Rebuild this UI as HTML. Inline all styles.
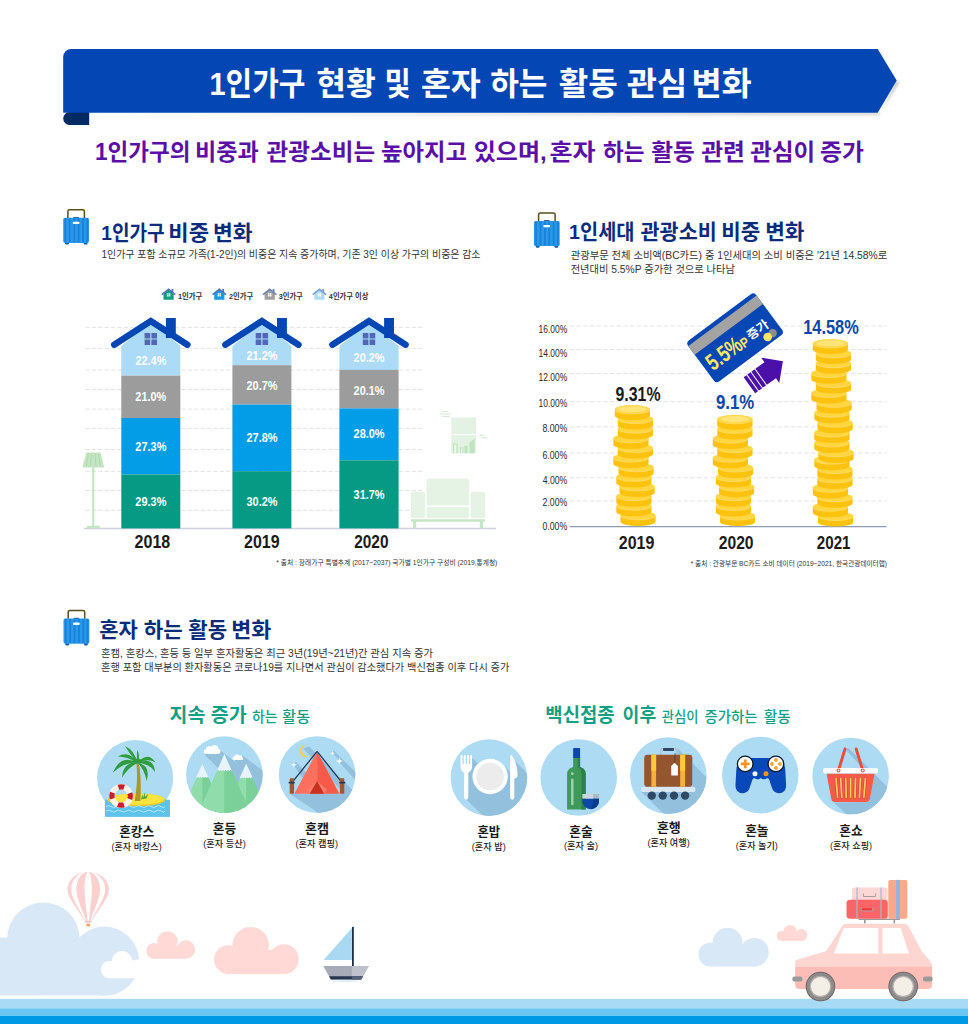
<!DOCTYPE html><html><head><meta charset="utf-8"><title>infographic</title><style>html,body{margin:0;padding:0;background:#fff;font-family:"Liberation Sans",sans-serif}svg{display:block}svg text{font-family:"Liberation Sans","Noto Sans CJK KR","NanumGothic",sans-serif}</style></head><body><svg width="968" height="1024" viewBox="0 0 968 1024"><rect width="968" height="1024" fill="#fff"/><filter id="bs" x="-5%" y="-20%" width="110%" height="150%"><feGaussianBlur stdDeviation="1.6"/></filter><path d="M90 114.5H879L898.5 82.5 897 80.5 880 113Z" fill="#555" opacity=".55" filter="url(#bs)"/><path d="M89.2 112H69.4a6.2 6.5 0 0 0 0 13H89.2Z" fill="#022a63"/><path d="M71.2 49H877.7L896.7 80.6 877.7 112.7H63.2V57a8 8 0 0 1 8-8Z" fill="#0446b4"/><g fill="#fff" font-size="32" font-weight="bold"><text x="209.45" y="94.66" textLength="96" lengthAdjust="spacingAndGlyphs">1인가구</text><text x="316.24" y="94.66" textLength="59.6" lengthAdjust="spacingAndGlyphs">현황</text><text x="384.55" y="94.66" textLength="26.2" lengthAdjust="spacingAndGlyphs">및</text><text x="420.90" y="94.66" textLength="59.9" lengthAdjust="spacingAndGlyphs">혼자</text><text x="490.13" y="94.66" textLength="57.2" lengthAdjust="spacingAndGlyphs">하는</text><text x="558.78" y="94.66" textLength="59" lengthAdjust="spacingAndGlyphs">활동</text><text x="626.72" y="94.66" textLength="60.4" lengthAdjust="spacingAndGlyphs">관심</text><text x="691.41" y="94.66" textLength="60.4" lengthAdjust="spacingAndGlyphs">변화</text></g><g fill="#5a10a6" font-size="23" font-weight="bold"><text x="95.02" y="159.71" textLength="95.4" lengthAdjust="spacingAndGlyphs">1인가구의</text><text x="195.00" y="159.71" textLength="63.8" lengthAdjust="spacingAndGlyphs">비중과</text><text x="266.54" y="159.71" textLength="108.6" lengthAdjust="spacingAndGlyphs">관광소비는</text><text x="381.07" y="159.71" textLength="85.9" lengthAdjust="spacingAndGlyphs">높아지고</text><text x="473.72" y="159.71" textLength="73" lengthAdjust="spacingAndGlyphs">있으며,</text><text x="549.42" y="159.71" textLength="46.2" lengthAdjust="spacingAndGlyphs">혼자</text><text x="602.92" y="159.71" textLength="41.6" lengthAdjust="spacingAndGlyphs">하는</text><text x="651.19" y="159.71" textLength="43.6" lengthAdjust="spacingAndGlyphs">활동</text><text x="701.24" y="159.71" textLength="43.7" lengthAdjust="spacingAndGlyphs">관련</text><text x="750.35" y="159.71" textLength="64.7" lengthAdjust="spacingAndGlyphs">관심이</text><text x="819.97" y="159.71" textLength="43.9" lengthAdjust="spacingAndGlyphs">증가</text></g><g id="sc"><path d="M67.9 218V211.3a1.6 1.6 0 0 1 1.6-1.6H82.8a1.6 1.6 0 0 1 1.6 1.6V218" fill="none" stroke="#5a4d1e" stroke-width="1.5"/>
<rect x="73.2" y="216.9" width="5.8" height="1.6" rx=".8" fill="#3a5a8a"/>
<rect x="65.1" y="241.5" width="3.8" height="3.1" rx="1.2" fill="#0d5fae"/><rect x="83.7" y="241.5" width="3.8" height="3.1" rx="1.2" fill="#0d5fae"/>
<rect x="63.2" y="217.8" width="25.8" height="25.1" rx="1.8" fill="#2a98eb"/>
<path d="M65.4 218.3v24M69.8 218.3v24M74.2 218.3v24M78.6 218.3v24M83 218.3v24M87.2 218.3v24" stroke="#1a82d8" stroke-width="1.9"/>
<rect x="72.8" y="221.7" width="6.6" height="2.4" rx=".9" fill="#fff"/></g><use href="#sc" x="470.7" y="3.2"/><use href="#sc" x="0.3" y="400.8"/><g fill="#0b2c7d" font-size="21" font-weight="bold"><text x="101.31" y="239.74" textLength="63.4" lengthAdjust="spacingAndGlyphs">1인가구</text><text x="168.38" y="239.74" textLength="40.8" lengthAdjust="spacingAndGlyphs">비중</text><text x="212.99" y="239.74" textLength="39.6" lengthAdjust="spacingAndGlyphs">변화</text><text x="569.06" y="238.90" textLength="65.4" lengthAdjust="spacingAndGlyphs">1인세대</text><text x="640.54" y="238.90" textLength="76.2" lengthAdjust="spacingAndGlyphs">관광소비</text><text x="721.17" y="238.90" textLength="39" lengthAdjust="spacingAndGlyphs">비중</text><text x="765.21" y="238.90" textLength="39.3" lengthAdjust="spacingAndGlyphs">변화</text><text x="99.30" y="636.95" textLength="38.6" lengthAdjust="spacingAndGlyphs">혼자</text><text x="143.77" y="636.95" textLength="39" lengthAdjust="spacingAndGlyphs">하는</text><text x="188.28" y="636.95" textLength="38.8" lengthAdjust="spacingAndGlyphs">활동</text><text x="231.17" y="636.95" textLength="40" lengthAdjust="spacingAndGlyphs">변화</text></g><g fill="#333333" font-size="10.3"><text x="101.51" y="258.27" textLength="379" lengthAdjust="spacingAndGlyphs">1인가구 포함 소규모 가족(1-2인)의 비중은 지속 증가하며, 기존 3인 이상 가구의 비중은 감소</text><text x="570.74" y="258.65" textLength="316.5" lengthAdjust="spacingAndGlyphs">관광부문 전체 소비액(BC카드) 중 1인세대의 소비 비중은 '21년 14.58%로</text><text x="570.65" y="272.73" textLength="164.3" lengthAdjust="spacingAndGlyphs">전년대비 5.5%P 증가한 것으로 나타남</text><text x="101.08" y="657.03" textLength="331.9" lengthAdjust="spacingAndGlyphs">혼캠, 혼캉스, 혼등 등 일부 혼자활동은 최근 3년(19년~21년)간 관심 지속 증가</text><text x="101.08" y="671.31" textLength="408.3" lengthAdjust="spacingAndGlyphs">혼행 포함 대부분의 환자활동은 코로나19를 지나면서 관심이 감소했다가 백신접종 이후 다시 증가</text></g><g transform="translate(161.2 288.4)"><path d="M2.3 11.4V5.4L7.4 1.2 12.5 5.4V11.4Z" fill="#129c84"/><rect x="10.4" y="0.5" width="1.8" height="3.6" fill="#4f74b8"/><path d="M0.7 6.3 7.4 0.9 14.1 6.3" fill="none" stroke="#4f74b8" stroke-width="1.7"/><path d="M5.7 4.8h1.5v1.5H5.7zM7.6 4.8h1.5v1.5H7.6zM5.7 6.7h1.5v1.5H5.7zM7.6 6.7h1.5v1.5H7.6z" fill="#fff"/></g><g transform="translate(211.9 288.4)"><path d="M2.3 11.4V5.4L7.4 1.2 12.5 5.4V11.4Z" fill="#169be8"/><rect x="10.4" y="0.5" width="1.8" height="3.6" fill="#4f74b8"/><path d="M0.7 6.3 7.4 0.9 14.1 6.3" fill="none" stroke="#4f74b8" stroke-width="1.7"/><path d="M5.7 4.8h1.5v1.5H5.7zM7.6 4.8h1.5v1.5H7.6zM5.7 6.7h1.5v1.5H5.7zM7.6 6.7h1.5v1.5H7.6z" fill="#fff"/></g><g transform="translate(262.3 288.4)"><path d="M2.3 11.4V5.4L7.4 1.2 12.5 5.4V11.4Z" fill="#a0a0a0"/><rect x="10.4" y="0.5" width="1.8" height="3.6" fill="#6f84ae"/><path d="M0.7 6.3 7.4 0.9 14.1 6.3" fill="none" stroke="#6f84ae" stroke-width="1.7"/><path d="M5.7 4.8h1.5v1.5H5.7zM7.6 4.8h1.5v1.5H7.6zM5.7 6.7h1.5v1.5H5.7zM7.6 6.7h1.5v1.5H7.6z" fill="#fff"/></g><g transform="translate(312.0 288.4)"><path d="M2.3 11.4V5.4L7.4 1.2 12.5 5.4V11.4Z" fill="#b0dbf6"/><rect x="10.4" y="0.5" width="1.8" height="3.6" fill="#7f9fd8"/><path d="M0.7 6.3 7.4 0.9 14.1 6.3" fill="none" stroke="#7f9fd8" stroke-width="1.7"/><path d="M5.7 4.8h1.5v1.5H5.7zM7.6 4.8h1.5v1.5H7.6zM5.7 6.7h1.5v1.5H5.7zM7.6 6.7h1.5v1.5H7.6z" fill="#fff"/></g><g fill="#333" font-size="7.6" font-weight="bold"><text x="177.90" y="299.04" textLength="24.4" lengthAdjust="spacingAndGlyphs">1인가구</text><text x="229.05" y="299.04" textLength="24.2" lengthAdjust="spacingAndGlyphs">2인가구</text><text x="278.71" y="299.04" textLength="24.1" lengthAdjust="spacingAndGlyphs">3인가구</text><text x="328.85" y="299.04" textLength="39.5" lengthAdjust="spacingAndGlyphs">4인가구 이상</text></g><path d="M85.4 327.4H424M85.4 348.4H424M85.4 370.1H424M85.4 389.5H424M85.4 409.1H424M85.4 428.4H424M85.4 449.5H424M85.4 471.4H424M85.4 490.5H424M85.4 510.3H424" stroke="#e3e3e6" stroke-width="1" stroke-dasharray="4.3 2.1" fill="none"/><path d="M84 528.6H496" stroke="#cfd0e0" stroke-width="1.5"/><path d="M121.3 375.6V346L150.8 321.8 180.3 346V375.6Z" fill="#abdbf6"/><rect x="121.3" y="375.6" width="59.0" height="42.4" fill="#9c9c9c"/><rect x="121.3" y="418.0" width="59.0" height="56.5" fill="#039ce6"/><rect x="121.3" y="474.5" width="59.0" height="53.9" fill="#069a84"/><rect x="165.9" y="318" width="9.9" height="20" fill="#0446b4"/><path d="M114.2 344.7 150.8 321.0 187.4 344.7" fill="none" stroke="#0446b4" stroke-width="6.4" stroke-linecap="round" stroke-linejoin="miter"/><path d="M144.6 333.0h5.6v5.5h-5.6zM151.4 333.0h5.6v5.5h-5.6zM144.6 339.6h5.6v5.5h-5.6zM151.4 339.6h5.6v5.5h-5.6z" fill="#5267b8"/><g fill="#fff" font-size="13.5" font-weight="bold"><text x="135.38" y="365.27" textLength="31" lengthAdjust="spacingAndGlyphs">22.4%</text><text x="135.35" y="401.14" textLength="31" lengthAdjust="spacingAndGlyphs">21.0%</text><text x="135.37" y="451.37" textLength="31" lengthAdjust="spacingAndGlyphs">27.3%</text><text x="135.37" y="505.97" textLength="31" lengthAdjust="spacingAndGlyphs">29.3%</text></g><text x="134.59" y="547.57" font-size="17.5" font-weight="bold" fill="#1a1a1a" textLength="35.7" lengthAdjust="spacingAndGlyphs">2018</text><path d="M232.4 365.2V346L261.9 321.8 291.4 346V365.2Z" fill="#abdbf6"/><rect x="232.4" y="365.2" width="59.0" height="39.4" fill="#9c9c9c"/><rect x="232.4" y="404.6" width="59.0" height="66.6" fill="#039ce6"/><rect x="232.4" y="471.2" width="59.0" height="57.2" fill="#069a84"/><rect x="277.0" y="318" width="9.9" height="20" fill="#0446b4"/><path d="M225.3 344.7 261.9 321.0 298.5 344.7" fill="none" stroke="#0446b4" stroke-width="6.4" stroke-linecap="round" stroke-linejoin="miter"/><path d="M255.7 333.0h5.6v5.5h-5.6zM262.5 333.0h5.6v5.5h-5.6zM255.7 339.6h5.6v5.5h-5.6zM262.5 339.6h5.6v5.5h-5.6z" fill="#5267b8"/><g fill="#fff" font-size="13.5" font-weight="bold"><text x="246.45" y="359.97" textLength="31" lengthAdjust="spacingAndGlyphs">21.2%</text><text x="246.47" y="390.44" textLength="31" lengthAdjust="spacingAndGlyphs">20.7%</text><text x="246.47" y="441.77" textLength="31" lengthAdjust="spacingAndGlyphs">27.8%</text><text x="246.49" y="505.94" textLength="31" lengthAdjust="spacingAndGlyphs">30.2%</text></g><text x="244.09" y="547.57" font-size="17.5" font-weight="bold" fill="#1a1a1a" textLength="35.5" lengthAdjust="spacingAndGlyphs">2019</text><path d="M339.4 369.9V346L369.0 321.8 398.6 346V369.9Z" fill="#abdbf6"/><rect x="339.4" y="369.9" width="59.2" height="38.5" fill="#9c9c9c"/><rect x="339.4" y="408.4" width="59.2" height="51.9" fill="#039ce6"/><rect x="339.4" y="460.3" width="59.2" height="68.1" fill="#069a84"/><rect x="384.1" y="318" width="9.9" height="20" fill="#0446b4"/><path d="M332.4 344.7 369.0 321.0 405.6 344.7" fill="none" stroke="#0446b4" stroke-width="6.4" stroke-linecap="round" stroke-linejoin="miter"/><path d="M362.8 333.0h5.6v5.5h-5.6zM369.6 333.0h5.6v5.5h-5.6zM362.8 339.6h5.6v5.5h-5.6zM369.6 339.6h5.6v5.5h-5.6z" fill="#5267b8"/><g fill="#fff" font-size="13.5" font-weight="bold"><text x="353.58" y="361.94" textLength="31" lengthAdjust="spacingAndGlyphs">20.2%</text><text x="353.55" y="394.74" textLength="31" lengthAdjust="spacingAndGlyphs">20.1%</text><text x="353.58" y="438.45" textLength="31" lengthAdjust="spacingAndGlyphs">28.0%</text><text x="353.56" y="499.17" textLength="31" lengthAdjust="spacingAndGlyphs">31.7%</text></g><text x="354.16" y="547.57" font-size="17.5" font-weight="bold" fill="#1a1a1a" textLength="34.3" lengthAdjust="spacingAndGlyphs">2020</text><g fill="#c4e6c4"><path d="M86.2 452.6H100.4L104.2 467.5H82.4Z"/><rect x="92.2" y="467" width="2.1" height="59.5"/><rect x="86.6" y="525.8" width="13.4" height="2.4" rx="1"/></g><path d="M88.5 453.5 86 466.5M91.5 453.5 90.3 466.5M95 453.5 96 466.5M98.3 453.5 100.6 466.5" stroke="#a6d6a6" stroke-width=".8" fill="none"/><g fill="#e3f2e3"><rect x="451.3" y="417.4" width="24.7" height="35.9"/></g><path d="M451.3 434.5H476" stroke="#fff" stroke-width="1"/><g fill="#bfe3bf"><rect x="453" y="443.5" width="4.6" height="9.8"/><rect x="460" y="447.3" width="3.4" height="6"/><rect x="464.4" y="445.7" width="3.2" height="7.6"/><path d="M469.4 453.3V443l5.2-4.4v14.7Z"/></g><path d="M454.2 444.7h2.2v8.6h-2.2zM461 448.4h1.4v4.9H461z" fill="#eef8ee"/><path d="M441.5 411.6h7M439.5 414h11M442 416.4h8M479.5 435.2h5M481.5 437.8h6" stroke="#cfe8cf" stroke-width="1"/><g fill="#e4f3e4"><rect x="426.5" y="478.6" width="42.5" height="27" rx="2.5"/><rect x="410.8" y="491.7" width="14.2" height="26.4" rx="2.5"/><rect x="470.6" y="491.7" width="14.6" height="26.4" rx="2.5"/><rect x="426.5" y="507" width="42.5" height="11" rx="1.5"/></g><g fill="#c6e6c6"><rect x="410.8" y="519.2" width="74.4" height="2.6" rx="1"/><rect x="413" y="521" width="3.2" height="7.2"/><rect x="479.8" y="521" width="3.2" height="7.2"/></g><text x="276.36" y="564.96" font-size="7.2" fill="#333" textLength="221" lengthAdjust="spacingAndGlyphs">* 출처 : 장래가구 특별추계 (2017~2037) 국가별 1인가구 구성비 (2019,통계청)</text><path d="M569.7 326.0H886.5M569.7 349.6H886.5M569.7 373.6H886.5M569.7 401.7H886.5M569.7 426.9H886.5M569.7 453.0H886.5M569.7 477.8H886.5M569.7 501.0H886.5" stroke="#e3e3e6" stroke-width="1" stroke-dasharray="4.5 2.2" fill="none"/><path d="M569.7 526.6H886.5" stroke="#8c9db4" stroke-width="1.2"/><g fill="#2a2a2a" font-size="10"><text x="538.59" y="333.40" textLength="28.7" lengthAdjust="spacingAndGlyphs">16.00%</text><text x="538.59" y="356.90" textLength="28.7" lengthAdjust="spacingAndGlyphs">14.00%</text><text x="538.59" y="381.00" textLength="28.7" lengthAdjust="spacingAndGlyphs">12.00%</text><text x="538.59" y="407.20" textLength="28.7" lengthAdjust="spacingAndGlyphs">10.00%</text><text x="542.45" y="432.20" textLength="24.8" lengthAdjust="spacingAndGlyphs">8.00%</text><text x="542.43" y="459.10" textLength="24.8" lengthAdjust="spacingAndGlyphs">6.00%</text><text x="542.71" y="483.90" textLength="24.5" lengthAdjust="spacingAndGlyphs">4.00%</text><text x="542.56" y="506.20" textLength="24.7" lengthAdjust="spacingAndGlyphs">2.00%</text><text x="542.45" y="529.70" textLength="24.8" lengthAdjust="spacingAndGlyphs">0.00%</text></g><defs><g id="coin"><path d="M-17.6 0v6.4a17.6 4.2 0 0 0 35.2 0V0Z" fill="#fdc20e"/><ellipse cx="0" cy="0" rx="17.6" ry="4.2" fill="#ffd540"/><path d="M-17.6 .3a17.6 4.2 0 0 0 35.2 0" fill="none" stroke="#ffe27a" stroke-width=".8"/></g><g id="coint"><use href="#coin"/><ellipse cx="0" cy="0" rx="17.6" ry="4.2" fill="#ffd84c"/><ellipse cx="0" cy="-.2" rx="14" ry="3" fill="#ffe47a"/></g></defs><use href="#coin" x="638.0" y="515.3"/><use href="#coin" x="633.9" y="505.7"/><use href="#coin" x="633.9" y="496.1"/><use href="#coin" x="637.1" y="486.4"/><use href="#coin" x="633.9" y="476.8"/><use href="#coin" x="636.1" y="467.2"/><use href="#coin" x="630.9" y="457.5"/><use href="#coin" x="635.4" y="447.9"/><use href="#coin" x="630.9" y="438.3"/><use href="#coin" x="635.4" y="428.7"/><use href="#coin" x="635.4" y="419.0"/><use href="#coint" x="632.4" y="409.4"/><use href="#coin" x="737.5" y="515.5"/><use href="#coin" x="733.4" y="505.9"/><use href="#coin" x="733.4" y="496.2"/><use href="#coin" x="736.6" y="486.6"/><use href="#coin" x="733.4" y="477.0"/><use href="#coin" x="735.6" y="467.4"/><use href="#coin" x="730.4" y="457.7"/><use href="#coin" x="734.9" y="448.1"/><use href="#coin" x="730.4" y="438.5"/><use href="#coin" x="734.9" y="428.8"/><use href="#coint" x="734.9" y="419.2"/><use href="#coin" x="835.6" y="516.0"/><use href="#coin" x="830.4" y="506.6"/><use href="#coin" x="834.9" y="497.2"/><use href="#coin" x="830.4" y="487.8"/><use href="#coin" x="834.9" y="478.4"/><use href="#coin" x="834.9" y="469.0"/><use href="#coint" x="831.9" y="459.6"/><use href="#coin" x="836.0" y="452.3"/><use href="#coin" x="831.9" y="442.4"/><use href="#coin" x="831.9" y="432.5"/><use href="#coin" x="835.1" y="422.6"/><use href="#coin" x="831.9" y="412.7"/><use href="#coin" x="834.1" y="402.8"/><use href="#coin" x="828.9" y="392.9"/><use href="#coin" x="833.4" y="383.0"/><use href="#coin" x="828.9" y="373.1"/><use href="#coin" x="833.4" y="363.2"/><use href="#coin" x="833.4" y="353.3"/><use href="#coint" x="830.4" y="343.4"/><text x="615.52" y="400.72" font-size="20" font-weight="bold" fill="#1a1a1a" textLength="45" lengthAdjust="spacingAndGlyphs">9.31%</text><text x="715.89" y="409.21" font-size="20.5" font-weight="bold" fill="#0d47a8" textLength="38.3" lengthAdjust="spacingAndGlyphs">9.1%</text><text x="803.21" y="334.31" font-size="20.3" font-weight="bold" fill="#0d47a8" textLength="55.6" lengthAdjust="spacingAndGlyphs">14.58%</text><g fill="#1a1a1a" font-size="17.8" font-weight="bold"><text x="618.79" y="549.37" textLength="35.5" lengthAdjust="spacingAndGlyphs">2019</text><text x="718.70" y="549.37" textLength="34.9" lengthAdjust="spacingAndGlyphs">2020</text><text x="816.83" y="549.37" textLength="33.6" lengthAdjust="spacingAndGlyphs">2021</text></g><g transform="translate(735.1 337.8) rotate(-36.6)"><rect x="-42.5" y="-25.5" width="85" height="51" rx="4" fill="#0747b5"/><rect x="-42.5" y="-21.2" width="85" height="10.6" fill="#a3a3a3"/><text x="-37.65" y="13.78" font-size="23" font-weight="bold" fill="#ffe566" textLength="38.8" lengthAdjust="spacingAndGlyphs">5.5%</text><text x="0.87" y="14.00" font-size="13.5" font-weight="bold" fill="#ffe566" textLength="8" lengthAdjust="spacingAndGlyphs">P</text><text x="10.98" y="11.43" font-size="12.3" font-weight="bold" fill="#fff" textLength="23.8" lengthAdjust="spacingAndGlyphs">증가</text><circle cx="33" cy="18.6" r="4.2" fill="#8c8c8c"/><circle cx="26.6" cy="18.8" r="4.3" fill="#ffe566"/></g><g transform="translate(749.4 385.2) rotate(-35.6)"><path d="M0 -9.9H25.6V-15.5L41.2 0 25.6 15.5V9.9H0Z" fill="#4a10a8"/><path d="M4 -10.5V10.5M9 -10.5V10.5M14 -10.5V10.5" stroke="#fff" stroke-width="1"/></g><text x="690.66" y="565.56" font-size="7.2" fill="#333" textLength="196.4" lengthAdjust="spacingAndGlyphs">* 출처 : 관광부문 BC카드 소비 데이터 (2019~2021, 한국관광데이터랩)</text><g fill="#12a085" font-size="19.5" font-weight="bold"><text x="169.56" y="721.82" textLength="35.8" lengthAdjust="spacingAndGlyphs">지속</text><text x="210.82" y="721.82" textLength="36" lengthAdjust="spacingAndGlyphs">증가</text><text x="545.32" y="721.86" textLength="69.4" lengthAdjust="spacingAndGlyphs">백신접종</text><text x="622.57" y="721.86" textLength="33.7" lengthAdjust="spacingAndGlyphs">이후</text></g><g fill="#12a085" font-size="14.5" font-weight="500"><text x="252.10" y="721.69" textLength="25.5" lengthAdjust="spacingAndGlyphs">하는</text><text x="282.14" y="721.69" textLength="28.1" lengthAdjust="spacingAndGlyphs">활동</text><text x="661.84" y="721.70" textLength="36.7" lengthAdjust="spacingAndGlyphs">관심이</text><text x="704.62" y="721.70" textLength="53" lengthAdjust="spacingAndGlyphs">증가하는</text><text x="763.86" y="721.70" textLength="27" lengthAdjust="spacingAndGlyphs">활동</text></g><clipPath id="cc"><circle r="38.3"/></clipPath><g transform="translate(135.1 778.1)"><circle r="38.1" fill="#aedbf4"/><rect x="-30.2" y="21.6" width="65.1" height="17.2" fill="#5cc3ea"/><ellipse cx="1.4" cy="21.8" rx="28.8" ry="6.4" fill="#f3cb1e"/><ellipse cx="1.4" cy="21" rx="27.6" ry="5.6" fill="#ffe440"/><path d="M-29 28.5q2.5-2 5 0t5 0 5 0 5 0 5 0 5 0 5 0 5 0 5 0 5 0 5 0 4 0M-29 33q2.5-2 5 0t5 0 5 0 5 0 5 0 5 0 5 0 5 0 5 0 5 0 5 0 4 0" fill="none" stroke="#b8e6f8" stroke-width="1"/><path d="M1.3 -14C2.4 -4 2.2 8 -0.4 22.8H5.3C6.2 8 5.6 -4 3.9 -14Z" fill="#ad962c"/><path d="M2.4 -15.2Q-0.6 -27.8 -10.2 -32.1Q-5.4 -24.2 2.4 -15.2ZM2.4 -15.2Q-5.9 -28.3 -17.2 -21.6Q-8.1 -21.7 2.4 -15.2ZM2.4 -15.2Q-14.1 -24.5 -22.3 -5.3Q-10.9 -16.5 2.4 -15.2ZM2.4 -15.2Q-12.1 -16.3 -13.0 -0.7Q-6.9 -10.7 2.4 -15.2ZM2.4 -15.2Q5.4 -22.0 2.3 -28.1Q1.4 -22.0 2.4 -15.2ZM2.4 -15.2Q13.1 -20.5 20.4 -15.5Q12.9 -27.5 2.4 -15.2ZM2.4 -15.2Q14.7 -14.9 20.0 -6.2Q18.3 -22.1 2.4 -15.2ZM2.4 -15.2Q9.1 -9.8 11.6 3.0Q15.9 -13.2 2.4 -15.2Z" fill="#2f9c3e"/><ellipse cx="2.2" cy="-17" rx="4.2" ry="2.6" fill="#2f9c3e"/><path d="M6 21.5 7 16 8 19.5 10 14 10 19 13 15.5 11.5 20.5Z" fill="#5aa632"/><circle cx="-14" cy="17.9" r="9.2" fill="none" stroke="#fbf3ea" stroke-width="5.6"/><circle cx="-14" cy="17.9" r="9.2" fill="none" stroke="#c81e2d" stroke-width="5.2" stroke-dasharray="6.2 8.25" stroke-dashoffset="3.1" transform="rotate(-90 -14 17.9)"/></g><g transform="translate(224.4 774.6)"><circle r="38.3" fill="#aedbf4"/><g clip-path="url(#cc)"><path d="M-20 -20 40 40V10L-9 -28Z M10 -14 44 20V0L18 -19Z" fill="#93c0dd"/><path d="M-22 -10.7 0 40H-44Z" fill="#90ddab"/><path d="M-22 -10.7 -22 40H0L-10 16Z" fill="#7ad098"/><path d="M21.8 -11.2 44 40H0Z" fill="#7ad098"/><path d="M21.8 -11.2V40H0Z" fill="#90ddab"/><path d="M0 -20.5 27 40H-27Z" fill="#90ddab"/><path d="M0 -20.5 27 40H0Z" fill="#7ad098"/><path d="M0 -20.5 7.4 -3.8 6 -4.8 4.8 -3.4 3.6 -4.8 2.4 -3.4 1.2 -4.8 0 -3.4 -1.2 -4.8 -2.4 -3.4 -3.6 -4.8 -4.8 -3.4 -6 -4.8 -7.4 -3.8Z" fill="#e8f3fc"/><path d="M-22 -10.7 -15.6 3.2 -16.8 2.2 -18 3.4 -19.2 2.2 -20.4 3.4 -21.6 2.2 -22.8 3.4 -24 2.2 -25.2 3.4 -26.4 2.2 -27.6 3.4 -28.4 3Z" fill="#e8f3fc"/><path d="M21.8 -11.2 28.4 3.4 27.2 2.6 26 3.8 24.8 2.6 23.6 3.8 22.4 2.6 21.2 3.8 20 2.6 18.8 3.8 17.6 2.6 16.4 3.8 15.4 3.2Z" fill="#e8f3fc"/><path d="M-19 -20.6a2.4 2.4 0 0 1 .4 -4.7 3.4 3.4 0 0 1 5.4 -2.6 4.2 4.2 0 0 1 7.4 2 2.7 2.7 0 0 1 -.4 5.3Z" fill="#fff"/><path d="M9.6 -14.6a1.7 1.7 0 0 1 .2 -3.4 2.7 2.7 0 0 1 4.8 -1.2 2.4 2.4 0 0 1 3.4 2 1.4 1.4 0 0 1 -.2 2.6Z" fill="#fff"/></g></g><g transform="translate(317.1 774.6)"><circle r="38.3" fill="#aedbf4"/><g clip-path="url(#cc)"><path d="M-14 -26 -8 -28 44 24V44H10L-27.4 19.1H27Z M-25 -11.5 -21 -12.5 -10 -1 -14 4Z M14 -23 17 -23.5 44 3V8Z M20 -15 25 -15.5 44 3.5V12Z" fill="#93c0dd"/><path d="M0 -23.2 -22.8 19.1H0Z" fill="#fb6f5c"/><path d="M0 -23.2 22.3 19.1H0Z" fill="#f75a48"/><path d="M0 6.5 -9.8 15 -7.4 19.1H7L9.8 15Z" fill="#fb7e6a"/><path d="M0 6.5 -7.4 19.1H7Z" fill="#c8321f"/><path d="M0 -23.2 -25.2 8M0 -23.2 25 8" stroke="#1f3a5c" stroke-width="1.3" fill="none"/><rect x="-27.4" y="3.7" width="4.4" height="15.4" rx=".6" fill="#9b5a34"/><rect x="22.8" y="3.7" width="4.4" height="15.4" rx=".6" fill="#9b5a34"/><path d="M-28.4 8H-22.4M22.2 8H28.2" stroke="#1f3a5c" stroke-width="1.6"/><path d="M-11.4 -29.4a6 6 0 1 0 3.6 10.6 5 5 0 0 1 -3.6 -10.6Z" fill="#f7cf55"/><path d="M-23.2 -13.0 l0.70 2.50 2.50 0.70 -2.50 0.70 -0.70 2.50 -0.70 -2.50 -2.50 -0.70 2.50 -0.70 Z" fill="#fff"/><path d="M15.5 -24.0 l0.57 2.03 2.03 0.57 -2.03 0.57 -0.57 2.03 -0.57 -2.03 -2.03 -0.57 2.03 -0.57 Z" fill="#fff"/><path d="M22.3 -17.3 l0.84 2.96 2.96 0.84 -2.96 0.84 -0.84 2.96 -0.84 -2.96 -2.96 -0.84 2.96 -0.84 Z" fill="#fff"/></g></g><g transform="translate(488.9 777.6)"><circle r="38.3" fill="#aedbf4"/><g clip-path="url(#cc)"><path d="M-17 -20 44 41H-3L-22.7 22V-8Z M-10 -14 13 -14 60 33 20 60 -12 12Z M21.2 -22.5 28.6 -14 60 17V60H40L21.2 22Z" fill="#93c0dd"/><circle cx="1.2" cy="-1.1" r="17.7" fill="#fff"/><circle cx="1.2" cy="-1.1" r="13.8" fill="#ececec"/><path d="M-28.4 -21.6a1 1 0 0 1 2 0V-13.6h1.2V-21.6a1 1 0 0 1 2 0V-13.6h1.2V-21.6a1 1 0 0 1 2 0V-13.6h1.2V-21.6a1 1 0 0 1 2 0V-11.5C-16.8 -7.5 -19 -6 -20.6 -4.6V20a2.1 2.1 0 0 1 -4.2 0V-4.6C-26.4 -6 -28.4 -7.5 -28.4 -11.5Z" fill="#fff"/><path d="M21.2 -21.5a1 1 0 0 1 1.8 -.6C27.5 -16 28.8 -8 28.6 -1.5 28.5 0 27 .7 25.4 1.2V20a2.1 2.1 0 0 1 -4.2 0Z" fill="#fff"/></g></g><g transform="translate(578.7 777.5)"><circle r="38.3" fill="#aedbf4"/><g clip-path="url(#cc)"><path d="M-5.6 -28.6a.8 .8 0 0 1 .8 -.8H.6a.8 .8 0 0 1 .8 .8V-19.6H-5.6Z" fill="#0d47a8"/><path d="M-5.6 -19.6H1.4V-10.5C4.5 -9.5 7 -7.5 7 -3.5V32H-11.6V-3.5C-11.6 -7.5 -8.8 -9.5 -5.6 -10.5Z" fill="#3f9a5a"/><path d="M-1 -19.6H1.4V-10.5C4.5 -9.5 7 -7.5 7 -3.5V32H2.8V-4C2.8 -7 1 -9 -1 -10Z" fill="#2f8048"/><rect x="-7.6" y="1" width="2.4" height="26.8" rx="1.2" fill="#9fd4ad"/><circle cx="-6.4" cy="-3.8" r="1.4" fill="#9fd4ad"/><path d="M3.7 16.6H20.3V21.3H3.7Z" fill="#c9d6e2"/><path d="M14.6 16.6H20.3V21.3H14.6Z" fill="#aab8c8"/><path d="M3.7 21.3H20.3V23.4A8.3 8.3 0 0 1 3.7 23.4Z" fill="#0d47a8"/><path d="M14.6 21.3H20.3V23.4A8.3 8.3 0 0 1 12 31.7 C14 29 14.6 25 14.6 21.3Z" fill="#0a3a8c"/></g></g><g transform="translate(668.3 775.6)"><circle r="38.3" fill="#aedbf4"/><g clip-path="url(#cc)"><path d="M9.1 -27.4 60 23.5V60H18L-27.1 16.3H24V-20.9H9.1Z" fill="#93c0dd"/><rect x="-7.6" y="-26.8" width="16" height="8" rx="1.2" fill="none" stroke="#b4c2d0" stroke-width="1.4"/><rect x="-5.3" y="-27.6" width="11" height="3" rx=".8" fill="#2c4a66"/><rect x="-24.1" y="-20.9" width="48.1" height="32.1" rx="3.4" fill="#95562f"/><rect x="-16.9" y="-20.9" width="4.7" height="32.1" fill="#f6b040"/><rect x="11.9" y="-20.9" width="4.9" height="32.1" fill="#f6b040"/><rect x="-16.9" y="-20.9" width="4.7" height="16" fill="#ffc93e"/><rect x="11.9" y="-20.9" width="4.9" height="16" fill="#ffc93e"/><path d="M6.8 -22.5 6.3 -12.6" stroke="#3a3a44" stroke-width=".7" fill="none"/><path d="M6.250000 -12.8 9.6 -9.6V-.6a.6 .6 0 0 1 -.6 .6H3.5a.6 .6 0 0 1 -.6 -.6V-9.6Z" fill="#fff"/><rect x="-27.1" y="11.3" width="54.2" height="5" rx="1.6" fill="#d9e7f3"/><g fill="#2c4a66"><circle cx="-16.5" cy="20" r="4.2"/><circle cx="-5.5" cy="20" r="4.2"/><circle cx="5.7" cy="20" r="4.2"/><circle cx="16.8" cy="20" r="4.2"/></g></g></g><g transform="translate(760.3 775.1)"><circle r="38.3" fill="#aedbf4"/><g clip-path="url(#cc)"><path d="M-17 -17.2H17C22 -17.2 24.5 -12 25 -5 L25.8 10C26 15.5 22.5 18.3 18.5 18.1 14.5 18 12.5 15.5 11.5 12.5L9 5C8.5 3.5 7.5 3 6 3.4 4.5 4.6 2 4.6 .5 3 -1 4.6 -3.5 4.6 -5 3.4 -6.5 3 -7.5 3.5 -8 5L-10.5 12.5C-11.5 15.5 -13.5 18 -17.5 18.1 -21.5 18.3 -25 15.5 -24.8 10L-24 -5C-23.5 -12 -21 -17.2 -17 -17.2Z" fill="#0848b8"/><circle cx="-15.1" cy="-11.2" r="7.8" fill="#fff" stroke="#0a1a2a" stroke-width="1.3"/><circle cx="15.6" cy="-11.2" r="7.8" fill="#fff" stroke="#0a1a2a" stroke-width="1.3"/><path d="M-16.5 -15.6h2.8v3h3v2.8h-3v3h-2.8v-3h-3v-2.8h3z" fill="#f7941d"/><g fill="#fbb040" stroke="#f7941d" stroke-width=".8"><circle cx="15.6" cy="-15.2" r="1.5"/><circle cx="15.6" cy="-7.2" r="1.5"/><circle cx="11.6" cy="-11.2" r="1.5"/><circle cx="19.6" cy="-11.2" r="1.5"/></g><circle cx="-5.3" cy="-1.4" r="2.5" fill="#fff"/><circle cx="5.7" cy="-1.4" r="2.5" fill="#f7941d"/></g></g><g transform="translate(850.6 776.0)"><circle r="38.3" fill="#aedbf4"/><g clip-path="url(#cc)"><path d="M-5.6 -27 -2 -28 60 34V60H20L-17 26.5 18.6 26 24 -2.3 27.4 -5 12 -8Z" fill="#93c0dd"/><path d="M-5.6 -27 -12.1 -5.6M5.6 -27 12.1 -5.6" stroke="#f04a3a" stroke-width="2.9" stroke-linecap="round" fill="none"/><rect x="-27.4" y="-7.9" width="54.8" height="5.3" rx="1.6" fill="#fff"/><circle cx="-12.1" cy="-5.6" r="2" fill="#f04a3a"/><circle cx="12.1" cy="-5.6" r="2" fill="#f04a3a"/><circle cx="-12.1" cy="-5.6" r="1" fill="#fff"/><circle cx="12.1" cy="-5.6" r="1" fill="#fff"/><path d="M-24 -2.3H24L19.2 23.5a3 3 0 0 1 -2.9 2.5H-16.3a3 3 0 0 1 -2.9 -2.5Z" fill="#f75a48"/><path d="M-14.6 2.4 -13.0 21.4M-9.9 2.4 -8.8 21.4M-4.9 2.4 -4.4 21.4M0.0 2.4 0.0 21.4M4.9 2.4 4.4 21.4M9.9 2.4 8.8 21.4M14.8 2.4 13.2 21.4" stroke="#d8402e" stroke-width="2.9" stroke-linecap="round" fill="none"/><path d="M-14.6 2.4 -13.0 21.4M-9.9 2.4 -8.8 21.4M-4.9 2.4 -4.4 21.4M0.0 2.4 0.0 21.4M4.9 2.4 4.4 21.4M9.9 2.4 8.8 21.4M14.8 2.4 13.2 21.4" stroke="#ffca66" stroke-width="1.7" stroke-linecap="round" fill="none"/></g></g><g fill="#1a1a1a" font-size="12.8" font-weight="bold"><text x="119.14" y="836.08" textLength="34.9" lengthAdjust="spacingAndGlyphs">혼캉스</text><text x="212.84" y="833.36" textLength="23.3" lengthAdjust="spacingAndGlyphs">혼등</text><text x="305.13" y="833.48" textLength="24" lengthAdjust="spacingAndGlyphs">혼캠</text><text x="477.41" y="836.48" textLength="22.6" lengthAdjust="spacingAndGlyphs">혼밥</text><text x="569.34" y="835.61" textLength="23.3" lengthAdjust="spacingAndGlyphs">혼술</text><text x="656.93" y="831.98" textLength="23.9" lengthAdjust="spacingAndGlyphs">혼행</text><text x="745.14" y="834.88" textLength="23.3" lengthAdjust="spacingAndGlyphs">혼놀</text><text x="839.34" y="834.68" textLength="23.3" lengthAdjust="spacingAndGlyphs">혼쇼</text></g><g fill="#222" font-size="9.3" font-weight="500"><text x="111.51" y="849.72" textLength="50.2" lengthAdjust="spacingAndGlyphs">(혼자 바캉스)</text><text x="203.31" y="847.22" textLength="42.4" lengthAdjust="spacingAndGlyphs">(혼자 등산)</text><text x="295.55" y="847.22" textLength="42.5" lengthAdjust="spacingAndGlyphs">(혼자 캠핑)</text><text x="471.81" y="849.72" textLength="34" lengthAdjust="spacingAndGlyphs">(혼자 밥)</text><text x="564.01" y="848.52" textLength="34" lengthAdjust="spacingAndGlyphs">(혼자 술)</text><text x="647.51" y="845.82" textLength="42.2" lengthAdjust="spacingAndGlyphs">(혼자 여행)</text><text x="735.76" y="848.52" textLength="42.1" lengthAdjust="spacingAndGlyphs">(혼자 놀기)</text><text x="829.96" y="848.52" textLength="42.1" lengthAdjust="spacingAndGlyphs">(혼자 쇼핑)</text></g><rect x="0" y="998.8" width="968" height="9.6" fill="#a9daf5"/><rect x="0" y="1008.3" width="968" height="7.8" fill="#6cc6f2"/><rect x="0" y="1016" width="968" height="8" fill="#0099e5"/><g fill="#d9e8f6"><circle cx="43.4" cy="938.6" r="36.2"/><rect x="-5" y="937.5" width="48" height="57.8"/><circle cx="104.5" cy="961.2" r="34.6"/><rect x="-5" y="960" width="109.5" height="35.3"/></g><g fill="#fff"><circle cx="121.9" cy="961.4" r="10.3"/><circle cx="109.6" cy="969.5" r="8.7"/><path d="M109.6 965H150V978.2H109.6Z"/><path d="M131 958 C132 962 135 960 140 959V966H128Z"/></g><path d="M88.2 872C100.6 872 108.9 880 108.9 889.5C108.9 899 96.9 911 91.7 921L84.7 921C79.5 911 67.5 899 67.5 889.5C67.5 880 75.8 872 88.2 872Z" fill="#fff"/><path d="M88.2 872C95.3 872 100.0 880 100.0 889.5C100.0 899 93.2 911 90.2 921L88.8 921C89.7 911 91.8 899 91.8 889.5C91.8 880 90.4 872 88.2 872ZM88.2 872C81.1 872 76.4 880 76.4 889.5C76.4 899 83.2 911 86.2 921L87.6 921C86.7 911 84.6 899 84.6 889.5C84.6 880 86.0 872 88.2 872ZM88.2 872C100.6 872 108.9 880 108.9 889.5C108.9 899 96.9 911 91.7 921L91.1 921C95.3 911 105.2 899 105.2 889.5C105.2 880 98.4 872 88.2 872ZM88.2 872C75.8 872 67.5 880 67.5 889.5C67.5 899 79.5 911 84.7 921L85.3 921C81.1 911 71.2 899 71.2 889.5C71.2 880 78.0 872 88.2 872Z" fill="#fbd0ce"/><path d="M85 921h6.4v1.5H85z" fill="#f5bcb8"/><rect x="86.4" y="923.6" width="3.6" height="2.8" fill="#f0a868"/><g fill="#ffd9d6"><circle cx="167.4" cy="941.6" r="10.3"/><circle cx="154.2" cy="950.9" r="7.9"/><circle cx="185.9" cy="949.5" r="9.3"/><rect x="154.2" y="946" width="31.7" height="12.8"/></g><g fill="#ffd9d6"><circle cx="250.6" cy="945.1" r="18.2"/><circle cx="228.4" cy="959.6" r="14.4"/><circle cx="283.9" cy="959.1" r="14.9"/><rect x="228.4" y="950" width="55.5" height="24"/></g><path d="M351.9 927.9V959.9H323.6Z" fill="#a9d8f2"/><rect x="352" y="926.9" width="1.8" height="39.5" fill="#1c2e4a"/><ellipse cx="346" cy="981.2" rx="13" ry="1.1" fill="#e3eef6"/><path d="M323.3 966.1H368.8L361.2 979.5H330.8Z" fill="#a7abb8"/><path d="M351.9 966.1H368.8L361.2 979.5H351.9Z" fill="#bfc2cc"/><path d="M329 976.3H363L361.2 979.5H330.8Z" fill="#26364f"/><path d="M351.9 976.3H363L361.2 979.5H351.9Z" fill="#56627a"/><g fill="#d9e8f6"><circle cx="727.6" cy="942.7" r="14.9"/><circle cx="710.4" cy="954.5" r="12"/><circle cx="754.4" cy="952.2" r="14.3"/><rect x="710.4" y="948" width="44" height="18.5"/></g><g fill="#ffd9d6"><circle cx="790.1" cy="931.4" r="6.5"/><circle cx="781.7" cy="935.9" r="5"/><circle cx="801.3" cy="934.9" r="6"/><rect x="781.7" y="933" width="19.6" height="7.9"/></g><rect x="858.6" y="918.6" width="41.3" height="1.4" fill="#9a9a9a"/><rect x="864" y="919" width="1.6" height="4.5" fill="#9a9a9a"/><rect x="893.5" y="919" width="1.6" height="4.5" fill="#9a9a9a"/><rect x="851.9" y="887.4" width="35.6" height="14" rx="2.5" fill="#fdd6d6"/><rect x="846.5" y="899.8" width="41.3" height="19" rx="3.5" fill="#fb6568"/><rect x="888.3" y="879.9" width="19" height="38.9" rx="2" fill="#fca98b"/><rect x="896.1" y="879.9" width="3.8" height="38.9" fill="#8cb5e8"/><path d="M857 887.4V918.8M881 887.4V918.8" stroke="#9db9e2" stroke-width="1.2"/><path d="M863.5 893.5v3h12v-3M861 907.5v3.5h12v-3.5" fill="none" stroke="#a8a0a0" stroke-width="1"/><rect x="862" y="908.2" width="10" height="2" fill="#f0383c"/><path d="M795.2 966.5V962C795.2 960.5 796 960 798 959.5L826.3 951 840.5 929C841.5 926.5 843 923.7 846 923.7H903C907 923.7 908.5 926 910 929L921.5 951 929.5 960C931.5 962.5 932.1 964 932.1 966.7Z" fill="#fdd6d1"/><path d="M795.2 966.5H932.1V985C932.1 988 930.5 989 927.5 989H799.5C796.5 989 795.2 987.5 795.2 985Z" fill="#fcbdb6"/><path d="M843.7 927.9H878.4V953.5H833.8Z" fill="#fff"/><path d="M882.5 927.9H900.7L909 953.5H882.5Z" fill="#fff"/><rect x="792.4" y="976.6" width="10" height="5" rx="2" fill="#9a9a9a"/><rect x="923" y="976.6" width="9.6" height="5" rx="2" fill="#9a9a9a"/><circle cx="820.5" cy="986.5" r="14.8" fill="#6e5a5a"/><circle cx="820.5" cy="986.5" r="14" fill="#8b8b8b"/><circle cx="820.5" cy="986.5" r="10.8" fill="#b5b0aa"/><circle cx="820.5" cy="986.5" r="9.6" fill="#f4efe6"/><circle cx="903.2" cy="986.5" r="14.8" fill="#6e5a5a"/><circle cx="903.2" cy="986.5" r="14" fill="#8b8b8b"/><circle cx="903.2" cy="986.5" r="10.8" fill="#b5b0aa"/><circle cx="903.2" cy="986.5" r="9.6" fill="#f4efe6"/></svg></body></html>
